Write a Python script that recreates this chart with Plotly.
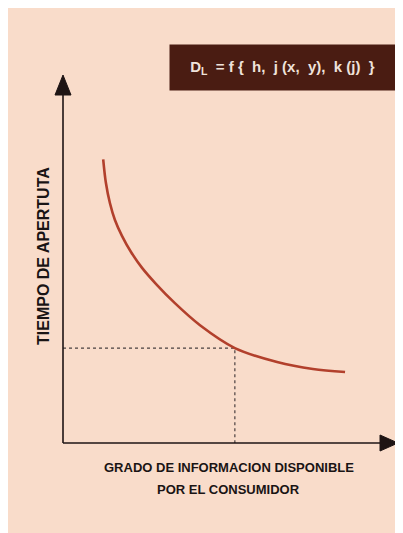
import plotly.graph_objects as go

# Curve data (information level vs. opening time)
info_level = [1.20, 1.28, 1.40, 1.55, 1.76, 2.03, 2.36, 2.78, 3.34, 4.09, 5.13, 6.39, 7.46, 8.42]
open_time = [7.71, 7.07, 6.52, 6.06, 5.63, 5.19, 4.76, 4.32, 3.80, 3.20, 2.58, 2.20, 2.01, 1.93]

# Reference point marked by dotted guide lines
ref_x = 5.13
ref_y = 2.58

x_title_1 = "GRADO DE INFORMACION DISPONIBLE"
x_title_2 = "POR EL CONSUMIDOR"
y_title = "TIEMPO DE APERTUTA"
formula = ("D<sub>L</sub>&nbsp;&nbsp;=&nbsp;f&nbsp;{&nbsp;&nbsp;h,&nbsp;&nbsp;j&nbsp;(x,"
           "&nbsp;&nbsp;y),&nbsp;&nbsp;k&nbsp;(j)&nbsp;&nbsp;}")

# page has an 8px body margin at the top-left; the figure runs past the window edge
W, H = 403, 533
OX, OY = 55, 435          # pixel position of the origin inside the figure
PX_X = 33.5               # pixels per x unit
PX_Y = 36.8               # pixels per y unit
x_range = [-OX / PX_X, (W - OX) / PX_X]
y_range = [(OY - H) / PX_Y, OY / PX_Y]


def dx(px):
    return (px - OX) / PX_X


def dy(py):
    return (OY - py) / PX_Y


BG = "#f9dcca"
AX = "#1e1414"
FONT = "Liberation Sans, Arial"

fig = go.Figure()

# dotted guides
fig.add_trace(go.Scatter(x=[0, ref_x, ref_x], y=[ref_y, ref_y, 0], mode="lines",
                         line=dict(color="#4a4040", width=1.2, dash="dot"),
                         hoverinfo="skip", showlegend=False))

# main curve
fig.add_trace(go.Scatter(x=info_level, y=open_time, mode="lines",
                         line=dict(color="#b2402c", width=2.6, shape="spline", smoothing=0.9),
                         showlegend=False))

shapes = [
    dict(type="line", xref="x", yref="y", x0=0, y0=0, x1=0, y1=9.5, line=dict(color=AX, width=1.6)),
    dict(type="line", xref="x", yref="y", x0=0, y0=0, x1=9.5, y1=0, line=dict(color=AX, width=1.6)),
    dict(type="path", xref="x", yref="y",
         path=f"M 0 10 L {-8/PX_X} {10-20/PX_Y} L {8/PX_X} {10-20/PX_Y} Z",
         fillcolor=AX, line=dict(color=AX, width=1)),
    dict(type="path", xref="x", yref="y",
         path=f"M 10 0 L {10-18/PX_X} {8/PX_Y} L {10-18/PX_X} {-8/PX_Y} Z",
         fillcolor=AX, line=dict(color=AX, width=1)),
]

annotations = [
    dict(x=dx(274.5), y=dy(59.5), xref="x", yref="y", text=f"<b>{formula}</b>",
         showarrow=False, bgcolor="#4a1c12", width=221, height=41, borderpad=2,
         font=dict(family=FONT, size=15, color="#efe2da")),
    dict(x=dx(35), y=dy(248), xref="x", yref="y", text=f"<b>{y_title}</b>",
         textangle=-90, showarrow=False,
         font=dict(family=FONT, size=16, color="#1a1414")),
    dict(x=dx(220.5), y=dy(459.5), xref="x", yref="y", text=f"<b>{x_title_1}</b>",
         showarrow=False, font=dict(family=FONT, size=13, color="#1a1414")),
    dict(x=dx(220), y=dy(481), xref="x", yref="y", text=f"<b>{x_title_2}</b>",
         showarrow=False, font=dict(family=FONT, size=13, color="#1a1414")),
]

fig.update_layout(
    width=W, height=H,
    margin=dict(l=0, r=0, t=0, b=0),
    paper_bgcolor=BG, plot_bgcolor=BG,
    xaxis=dict(range=x_range, visible=False, fixedrange=True),
    yaxis=dict(range=y_range, visible=False, fixedrange=True),
    shapes=shapes, annotations=annotations,
    showlegend=False,
)

fig.write_html("out.html", post_script="document.documentElement.style.overflow='hidden';")
